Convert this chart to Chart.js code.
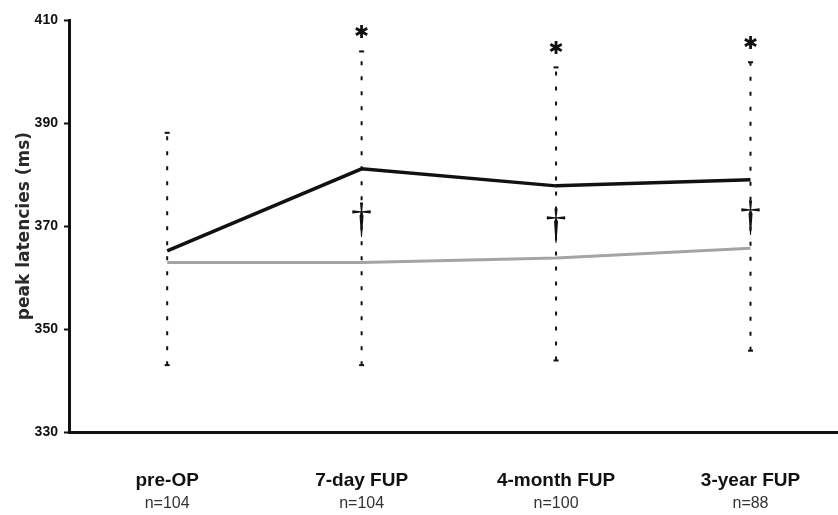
<!DOCTYPE html>
<html>
<head>
<meta charset="utf-8">
<style>
  html, body { margin: 0; padding: 0; background: #ffffff; }
  #wrap { width: 838px; height: 515px; }
</style>
<script src="https://cdn.jsdelivr.net/npm/chart.js@4/dist/chart.umd.min.js"></script>
</head>
<body>
<div id="wrap"><canvas id="chart" width="838" height="515"></canvas></div>
<script>
// Time points of the follow-up and the group size at each one
const categories = ['pre-OP', '7-day FUP', '4-month FUP', '3-year FUP'];
const sampleSizes = ['n=104', 'n=104', 'n=100', 'n=88'];

// Mean peak latencies (ms): operated patients and reference group
const operatedMean = [365.2, 381.1, 377.8, 379.0];
const referenceMean = [362.9, 362.9, 363.8, 365.7];

// Spread of the operated group (lower / upper end of each vertical bar)
const rangeLow = [343.0, 343.0, 343.9, 345.8];
const rangeHigh = [388.1, 403.9, 400.8, 401.8];

// Significance markers at each time point
const starMarks = ['', '✱', '✱', '✱'];
const daggerMarks = ['', '†', '†', '†'];

// Y axis range and step
const yMin = 330, yMax = 410, yStep = 20;

const toPoints = (values) => values.map((v, i) => ({ x: i, y: v }));

// One dashed vertical bar per time point, with short caps at both ends
const rangeDatasets = categories.map((_, i) => ({
  label: 'range ' + categories[i],
  data: [{ x: i, y: rangeLow[i] }, { x: i, y: rangeHigh[i] }],
  borderColor: '#111111',
  borderWidth: 2,
  borderDash: [4, 11],
  pointStyle: 'line',
  pointRadius: 2.5,
  pointBorderWidth: 2,
  pointBorderColor: '#111111',
  fill: false,
  order: 2
}));

// Star above each bar, dagger between the two curves
const markerPlugin = {
  id: 'markers',
  afterDatasetsDraw(chart) {
    const ctx = chart.ctx;
    const xs = chart.scales.x, ys = chart.scales.y;
    const drawCentered = (text, font, cx, cy) => {
      ctx.font = font;
      const m = ctx.measureText(text);
      const w = m.actualBoundingBoxLeft + m.actualBoundingBoxRight;
      const h = m.actualBoundingBoxAscent + m.actualBoundingBoxDescent;
      ctx.fillText(text, cx - w / 2 + m.actualBoundingBoxLeft, cy - h / 2 + m.actualBoundingBoxAscent);
    };
    ctx.save();
    ctx.fillStyle = '#111111';
    ctx.textAlign = 'left';
    ctx.textBaseline = 'alphabetic';
    categories.forEach((_, i) => {
      const x = xs.getPixelForValue(i);
      if (starMarks[i]) {
        drawCentered(starMarks[i], '18px "DejaVu Sans"', x, ys.getPixelForValue(rangeHigh[i]) - 20);
      }
      if (daggerMarks[i]) {
        const mid = (ys.getPixelForValue(operatedMean[i]) + ys.getPixelForValue(referenceMean[i])) / 2;
        drawCentered(daggerMarks[i], '42px "Liberation Serif"', x, mid + 4);
      }
    });
    ctx.restore();
  }
};

new Chart(document.getElementById('chart'), {
  type: 'line',
  data: {
    datasets: [
      {
        label: 'operated',
        data: toPoints(operatedMean),
        borderColor: '#111111',
        borderWidth: 3.5,
        pointRadius: 0,
        fill: false,
        order: 0
      },
      {
        label: 'reference',
        data: toPoints(referenceMean),
        borderColor: '#a4a4a4',
        borderWidth: 3,
        pointRadius: 0,
        fill: false,
        order: 1
      },
      ...rangeDatasets
    ]
  },
  options: {
    responsive: false,
    animation: false,
    events: [],
    layout: { autoPadding: false, padding: { top: 20, right: 0, bottom: 1.4, left: 14 } },
    plugins: {
      legend: { display: false },
      tooltip: { enabled: false }
    },
    scales: {
      x: {
        type: 'linear',
        position: 'bottom',
        weight: 0,
        min: -0.5,
        max: 3.45,
        afterBuildTicks: (axis) => { axis.ticks = categories.map((_, i) => ({ value: i })); },
        grid: {
          display: true,
          drawOnChartArea: false,
          drawTicks: true,
          tickLength: 37,
          tickColor: 'rgba(0,0,0,0)'
        },
        border: { display: true, color: '#111111', width: 3 },
        ticks: {
          autoSkip: false,
          maxRotation: 0,
          padding: 0,
          color: '#111111',
          font: { family: '"Liberation Sans", Arial, sans-serif', size: 19, weight: 'bold' },
          callback: (v) => categories[v]
        }
      },
      x2: {
        type: 'linear',
        position: 'bottom',
        weight: 1,
        min: -0.5,
        max: 3.45,
        afterBuildTicks: (axis) => { axis.ticks = sampleSizes.map((_, i) => ({ value: i })); },
        grid: { display: false, drawTicks: true, tickLength: 2.5 },
        border: { display: false },
        ticks: {
          autoSkip: false,
          maxRotation: 0,
          padding: 0,
          color: '#333333',
          font: { family: '"Liberation Sans", Arial, sans-serif', size: 16 },
          callback: (v) => sampleSizes[v]
        }
      },
      y: {
        min: yMin,
        max: yMax,
        grid: {
          drawOnChartArea: false,
          drawTicks: true,
          tickLength: 6,
          tickWidth: 2,
          tickColor: '#111111'
        },
        border: { display: true, color: '#111111', width: 3 },
        ticks: {
          stepSize: yStep,
          padding: 6,
          color: '#111111',
          font: { family: '"Liberation Sans", Arial, sans-serif', size: 14, weight: 'bold' }
        },
        title: {
          display: true,
          text: 'peak latencies (ms)',
          color: '#2a2a2a',
          padding: { top: 0, bottom: -5.8 },
          font: { family: '"DejaVu Sans", sans-serif', size: 17, weight: 'bold' }
        }
      }
    }
  },
  plugins: [markerPlugin]
});
</script>
</body>
</html>
